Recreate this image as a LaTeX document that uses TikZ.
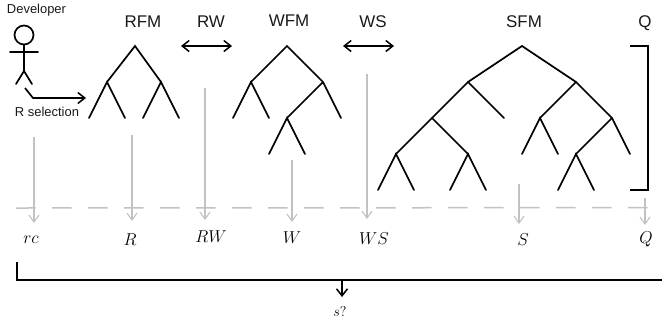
\documentclass[tikz,border=0pt]{standalone}
\usepackage{fontspec}
\setmainfont{Liberation Sans}
\usetikzlibrary{arrows.meta}
\definecolor{lightline}{gray}{0.76}
\definecolor{inkline}{gray}{0.0}
\tikzset{
  treeline/.style={line width=1.7bp,draw=inkline,line cap=round},
  blackarrow/.style={line width=1.7bp,draw=inkline,-{Straight Barb[length=7bp,width=11bp,line width=1.5bp]}},
  bothway/.style={line width=1.7bp,draw=inkline,{Straight Barb[length=7bp,width=11bp,line width=1.5bp]}-{Straight Barb[length=7bp,width=11bp,line width=1.5bp]}},
  grayarrow/.style={line width=1.2bp,draw=lightline,-{Straight Barb[length=7bp,width=10bp,line width=1.1bp]}},
  biglabel/.style={inner sep=0pt,text=black!90,font=\fontsize{17}{19}\selectfont},
  smalllabel/.style={inner sep=0pt,text=black!90,font=\fontsize{13}{15}\selectfont},
  mathlabel/.style={inner sep=0pt,text=black,font=\fontsize{17.28}{20}\selectfont},
}
\begin{document}
\begin{tikzpicture}[x=1bp,y=-1bp]
\useasboundingbox (0,0) rectangle (662,321);
% labels
\node[smalllabel] (dev) at (36.5,10.5) {Developer};
\node[smalllabel] (sel) at (47,111.5) {R selection};
\node[biglabel] (lrfm) at (143,22) {RFM};
\node[biglabel] (lrw) at (211,22) {RW};
\node[biglabel] (lwfm) at (289,21) {WFM};
\node[biglabel] (lws) at (373,22) {WS};
\node[biglabel] (lsfm) at (524,22) {SFM};
\node[biglabel] (lq) at (645,23) {Q};
% stick figure
\node[circle,draw=inkline,line width=1.7bp,minimum size=19bp,inner sep=0pt] (head) at (24,35) {};
\coordinate (hip) at (24,71);
\coordinate (armL) at (10,52);
\coordinate (armR) at (38,52);
\coordinate (legL) at (16,84);
\coordinate (legR) at (32,84);
\draw[treeline] (head.south) -- (hip) (armL) -- (armR) (legL) -- (hip) -- (legR);
\coordinate (sa) at (25,88);
\coordinate (sb) at (33,98);
\coordinate (sc) at (86,98);
\draw[blackarrow] (sa) -- (sb) -- (sc);
% RFM tree
\coordinate (r0) at (135,46);
\coordinate (r1) at (107,82);
\coordinate (r2) at (161,82);
\coordinate (r3) at (89,118);
\coordinate (r4) at (125,118);
\coordinate (r5) at (143,118);
\coordinate (r6) at (179,118);
\draw[treeline] (r3) -- (r1) -- (r4) (r1) -- (r0) -- (r2) (r5) -- (r2) -- (r6);
% RW, WS arrows
\coordinate (rwa) at (181,46);
\coordinate (rwb) at (232,46);
\coordinate (wsa) at (343,46);
\coordinate (wsb) at (394,46);
\draw[bothway] (rwa) -- (rwb);
\draw[bothway] (wsa) -- (wsb);
% WFM tree
\coordinate (w0) at (287,46);
\coordinate (w1) at (251,82);
\coordinate (w2) at (323,82);
\coordinate (w3) at (233,118);
\coordinate (w4) at (269,118);
\coordinate (w5) at (287,118);
\coordinate (w6) at (341,118);
\coordinate (w7) at (269,154);
\coordinate (w8) at (305,154);
\draw[treeline] (w3) -- (w1) -- (w4) (w1) -- (w0) -- (w2) -- (w6) (w2) -- (w5) (w7) -- (w5) -- (w8);
% SFM tree
\coordinate (s0) at (522,46);
\coordinate (s1) at (468,82);
\coordinate (s2) at (576,82);
\coordinate (s3) at (432,118);
\coordinate (s4) at (504,118);
\coordinate (s5) at (396,154);
\coordinate (s6) at (468,154);
\coordinate (s7) at (378,190);
\coordinate (s8) at (414,190);
\coordinate (s9) at (450,190);
\coordinate (s10) at (486,190);
\coordinate (s11) at (540,118);
\coordinate (s12) at (612,118);
\coordinate (s13) at (522,154);
\coordinate (s14) at (558,154);
\coordinate (s15) at (576,154);
\coordinate (s16) at (630,154);
\coordinate (s17) at (558,190);
\coordinate (s18) at (594,190);
\draw[treeline] (s1) -- (s0) -- (s2);
\draw[treeline] (s5) -- (s3) -- (s1) -- (s4);
\draw[treeline] (s3) -- (s6);
\draw[treeline] (s7) -- (s5) -- (s8);
\draw[treeline] (s9) -- (s6) -- (s10);
\draw[treeline] (s11) -- (s2) -- (s12) -- (s16);
\draw[treeline] (s13) -- (s11) -- (s14);
\draw[treeline] (s12) -- (s15);
\draw[treeline] (s17) -- (s15) -- (s18);
% Q bracket
\coordinate (qa) at (630,46);
\coordinate (qb) at (648,46);
\coordinate (qc) at (648,190);
\coordinate (qd) at (630,190);
\draw[line width=1.7bp,draw=inkline] (qa) -- (qb) -- (qc) -- (qd);
% dashed line
\coordinate (da) at (16,208);
\coordinate (db) at (651,207.6);
\draw[lightline,line width=1.5bp,dash pattern=on 19.5bp off 16.5bp] (da) -- (db);
% math labels
\node[mathlabel] (mrc) at (31,240) {$rc$};
\node[mathlabel] (mr) at (130,240) {$R$};
\node[mathlabel] (mrw) at (211,237) {$RW$};
\node[mathlabel] (mw) at (292,238) {$W$};
\node[mathlabel] (mws) at (374,239) {$WS$};
\node[mathlabel] (ms) at (523,240) {$S$};
\node[mathlabel] (mq) at (646,239) {$Q$};
\node[inner sep=0pt,text=black,font=\fontsize{14.4}{16}\selectfont] (mq2) at (340,312) {$s?$};
% gray arrows
\coordinate (g1) at (34,137); \coordinate (h1) at (34,223);
\coordinate (g2) at (132,135); \coordinate (h2) at (132,221);
\coordinate (g3) at (205,88); \coordinate (h3) at (205,220);
\coordinate (g4) at (292,160); \coordinate (h4) at (292,222);
\coordinate (g5) at (367,74); \coordinate (h5) at (367,219);
\coordinate (g6) at (519,184); \coordinate (h6) at (519,224);
\coordinate (g7) at (645,198); \coordinate (h7) at (645,225);
\foreach \i in {1,...,7} \draw[grayarrow] (g\i) -- (h\i);
% bottom bracket
\coordinate (ba) at (17,262);
\coordinate (bb) at (17,280);
\coordinate (bc) at (662,280);
\coordinate (bm) at (342,280);
\coordinate (bt) at (342,297);
\draw[line width=1.7bp,draw=inkline] (ba) -- (bb) -- (bc);
\draw[blackarrow] (bm) -- (bt);
\end{tikzpicture}
\end{document}
